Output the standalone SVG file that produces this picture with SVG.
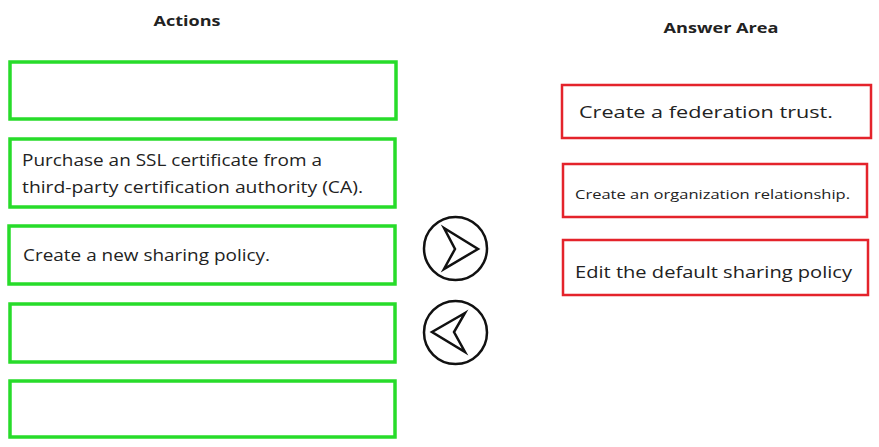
<svg xmlns="http://www.w3.org/2000/svg" width="879" height="447" viewBox="0 0 879 447">
<style>
.bg{fill:#ffffff}
.act{fill:#ffffff;stroke:#27dc2a;stroke-width:3.5}
.ans{fill:#ffffff;stroke:#e4232b;stroke-width:2.5}
.t{font-family:"Open Sans","Noto Sans","Liberation Sans",sans-serif;fill:#222222}
.h{font-family:"Open Sans","Noto Sans","Liberation Sans",sans-serif;font-weight:bold;fill:#222222;font-size:14px}
.btn{fill:#ffffff;stroke:#111111;stroke-width:2.5}
.chev{fill:none;stroke:#111111;stroke-width:2.5;stroke-linejoin:miter}
</style>
<rect class="bg" x="0" y="0" width="879" height="447"/>
<text class="h" x="187" y="26" text-anchor="middle" textLength="67" lengthAdjust="spacingAndGlyphs">Actions</text>
<text class="h" x="721" y="33" text-anchor="middle" textLength="115" lengthAdjust="spacingAndGlyphs">Answer Area</text>

<g id="action1"><rect class="act" x="10" y="62" width="386" height="57"/></g>
<g id="action2"><rect class="act" x="10" y="139" width="385" height="68"/>
<text class="t" x="22" y="166" font-size="15.5" textLength="300" lengthAdjust="spacingAndGlyphs">Purchase an SSL certificate from a</text>
<text class="t" x="22" y="193" font-size="15.5" textLength="341" lengthAdjust="spacingAndGlyphs">third-party certification authority (CA).</text></g>
<g id="action3"><rect class="act" x="9" y="226" width="386" height="58"/>
<text class="t" x="23" y="261" font-size="15.5" textLength="247" lengthAdjust="spacingAndGlyphs">Create a new sharing policy.</text></g>
<g id="action4"><rect class="act" x="10" y="304" width="385" height="58"/></g>
<g id="action5"><rect class="act" x="10" y="381" width="385" height="56"/></g>

<g id="btnRight"><circle class="btn" cx="455.5" cy="248.5" r="31.5"/>
<path class="chev" d="M444,228 L478,249 L444,269 L455,249 Z"/></g>
<g id="btnLeft"><circle class="btn" cx="455.5" cy="332.5" r="31.5"/>
<path class="chev" d="M465,313 L432,332 L465,352 L454,332 Z"/></g>

<g id="answer1"><rect class="ans" x="562" y="85" width="309" height="53"/>
<text class="t" x="579" y="118" font-size="16.5" textLength="254" lengthAdjust="spacingAndGlyphs">Create a federation trust.</text></g>
<g id="answer2"><rect class="ans" x="563" y="164" width="304" height="53"/>
<text class="t" x="575" y="199" font-size="12.5" textLength="275" lengthAdjust="spacingAndGlyphs">Create an organization relationship.</text></g>
<g id="answer3"><rect class="ans" x="563" y="240" width="305" height="55"/>
<text class="t" x="575" y="278" font-size="17" textLength="277" lengthAdjust="spacingAndGlyphs">Edit the default sharing policy</text></g>
<g id="connectors"></g>
</svg>
